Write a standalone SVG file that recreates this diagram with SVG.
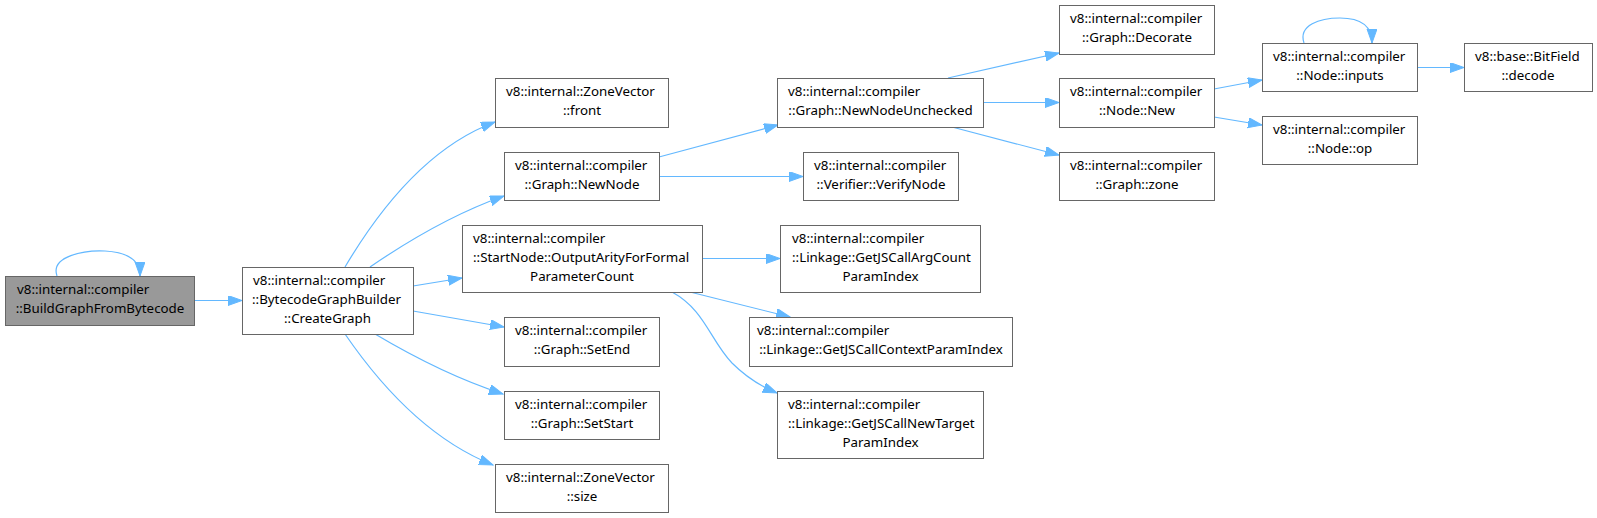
<svg xmlns="http://www.w3.org/2000/svg" width="1597" height="518" viewBox="0 0 1597 518">
<style>
.n rect{fill:#fff;stroke:#666;stroke-width:1}
.n.hl rect{fill:#999}
.n text{font-family:"Noto Sans",sans-serif;font-size:13.33px;fill:#000}
.c{text-anchor:middle}
.e path{fill:none;stroke:#63b8ff;stroke-width:1.2}
</style>
<defs>
<marker id="a" markerUnits="userSpaceOnUse" markerWidth="15" markerHeight="11" refX="14" refY="5" orient="auto">
<path d="M0,0 L14,5 L0,10 z" fill="#63b8ff" stroke="#63b8ff"/>
</marker>
</defs>
<rect width="1597" height="518" fill="#fff"/>
<g class="e">
<path d="M57,276 C50,256 85,250 105,251 C125,252 140,258 140,276" marker-end="url(#a)"/>
<path d="M194,300.5 L242,300.5" marker-end="url(#a)"/>
<path d="M345,267 C380,208 430,146 495,122" marker-end="url(#a)"/>
<path d="M370,267 C405,243 450,215 504,196" marker-end="url(#a)"/>
<path d="M413,286 L462,278" marker-end="url(#a)"/>
<path d="M413,311 L504,327" marker-end="url(#a)"/>
<path d="M375,334 C412,356 460,380 503,394" marker-end="url(#a)"/>
<path d="M345,334 C380,385 430,440 493,465" marker-end="url(#a)"/>
<path d="M659,157 L778,125" marker-end="url(#a)"/>
<path d="M659,176.5 L803,176.5" marker-end="url(#a)"/>
<path d="M702,258.5 L780,258.5" marker-end="url(#a)"/>
<path d="M690,292 L790,317" marker-end="url(#a)"/>
<path d="M672,292 C705,310 710,340 732,363 C746,377 760,386 777,393" marker-end="url(#a)"/>
<path d="M948,78 L1059,53" marker-end="url(#a)"/>
<path d="M983,102.5 L1059,102.5" marker-end="url(#a)"/>
<path d="M952,127 L1059,155" marker-end="url(#a)"/>
<path d="M1214,89 L1262,80" marker-end="url(#a)"/>
<path d="M1214,117 L1262,125" marker-end="url(#a)"/>
<path d="M1304,43 C1298,25 1320,18 1340,18 C1360,18 1372,25 1372,43" marker-end="url(#a)"/>
<path d="M1417,67.5 L1464,67.5" marker-end="url(#a)"/>
</g>
<g id="n1" class="n hl"><rect x="5.5" y="276.5" width="189" height="49"/><text x="17" y="294">v8::internal::compiler</text><text x="100" y="313" class="c">::BuildGraphFromBytecode</text></g>
<g id="n2" class="n"><rect x="242.5" y="267.5" width="171" height="67"/><text x="253" y="285">v8::internal::compiler</text><text x="252" y="304">::BytecodeGraphBuilder</text><text x="327.5" y="323" class="c">::CreateGraph</text></g>
<g id="n3" class="n"><rect x="495.5" y="78.5" width="173" height="49"/><text x="506" y="96">v8::internal::ZoneVector</text><text x="582" y="115" class="c">::front</text></g>
<g id="n4" class="n"><rect x="504.5" y="152.5" width="155" height="48"/><text x="515" y="170">v8::internal::compiler</text><text x="582" y="189" class="c">::Graph::NewNode</text></g>
<g id="n5" class="n"><rect x="462.5" y="225.5" width="240" height="67"/><text x="473" y="243">v8::internal::compiler</text><text x="473" y="262">::StartNode::OutputArityForFormal</text><text x="582" y="281" class="c">ParameterCount</text></g>
<g id="n6" class="n"><rect x="504.5" y="317.5" width="155" height="49"/><text x="515" y="335">v8::internal::compiler</text><text x="582" y="354" class="c">::Graph::SetEnd</text></g>
<g id="n7" class="n"><rect x="504.5" y="391.5" width="155" height="48"/><text x="515" y="409">v8::internal::compiler</text><text x="582" y="428" class="c">::Graph::SetStart</text></g>
<g id="n8" class="n"><rect x="495.5" y="464.5" width="173" height="48"/><text x="506" y="482">v8::internal::ZoneVector</text><text x="582" y="501" class="c">::size</text></g>
<g id="n9" class="n"><rect x="777.5" y="78.5" width="206" height="49"/><text x="788" y="96">v8::internal::compiler</text><text x="880.5" y="115" class="c">::Graph::NewNodeUnchecked</text></g>
<g id="n10" class="n"><rect x="803.5" y="152.5" width="155" height="48"/><text x="814" y="170">v8::internal::compiler</text><text x="881" y="189" class="c">::Verifier::VerifyNode</text></g>
<g id="n11" class="n"><rect x="1059.5" y="5.5" width="155" height="49"/><text x="1070" y="23">v8::internal::compiler</text><text x="1137" y="42" class="c">::Graph::Decorate</text></g>
<g id="n12" class="n"><rect x="1059.5" y="78.5" width="155" height="49"/><text x="1070" y="96">v8::internal::compiler</text><text x="1137" y="115" class="c">::Node::New</text></g>
<g id="n13" class="n"><rect x="1059.5" y="152.5" width="155" height="48"/><text x="1070" y="170">v8::internal::compiler</text><text x="1137" y="189" class="c">::Graph::zone</text></g>
<g id="n14" class="n"><rect x="780.5" y="225.5" width="200" height="67"/><text x="792" y="243">v8::internal::compiler</text><text x="792" y="262">::Linkage::GetJSCallArgCount</text><text x="880.5" y="281" class="c">ParamIndex</text></g>
<g id="n15" class="n"><rect x="749.5" y="317.5" width="263" height="49"/><text x="757" y="335">v8::internal::compiler</text><text x="881" y="354" class="c">::Linkage::GetJSCallContextParamIndex</text></g>
<g id="n16" class="n"><rect x="777.5" y="391.5" width="206" height="67"/><text x="788" y="409">v8::internal::compiler</text><text x="788" y="428">::Linkage::GetJSCallNewTarget</text><text x="880.5" y="447" class="c">ParamIndex</text></g>
<g id="n17" class="n"><rect x="1262.5" y="43.5" width="155" height="48"/><text x="1273" y="61">v8::internal::compiler</text><text x="1340" y="80" class="c">::Node::inputs</text></g>
<g id="n18" class="n"><rect x="1262.5" y="116.5" width="155" height="48"/><text x="1273" y="134">v8::internal::compiler</text><text x="1340" y="153" class="c">::Node::op</text></g>
<g id="n19" class="n"><rect x="1464.5" y="43.5" width="128" height="48"/><text x="1475" y="61">v8::base::BitField</text><text x="1528" y="80" class="c">::decode</text></g>
</svg>
